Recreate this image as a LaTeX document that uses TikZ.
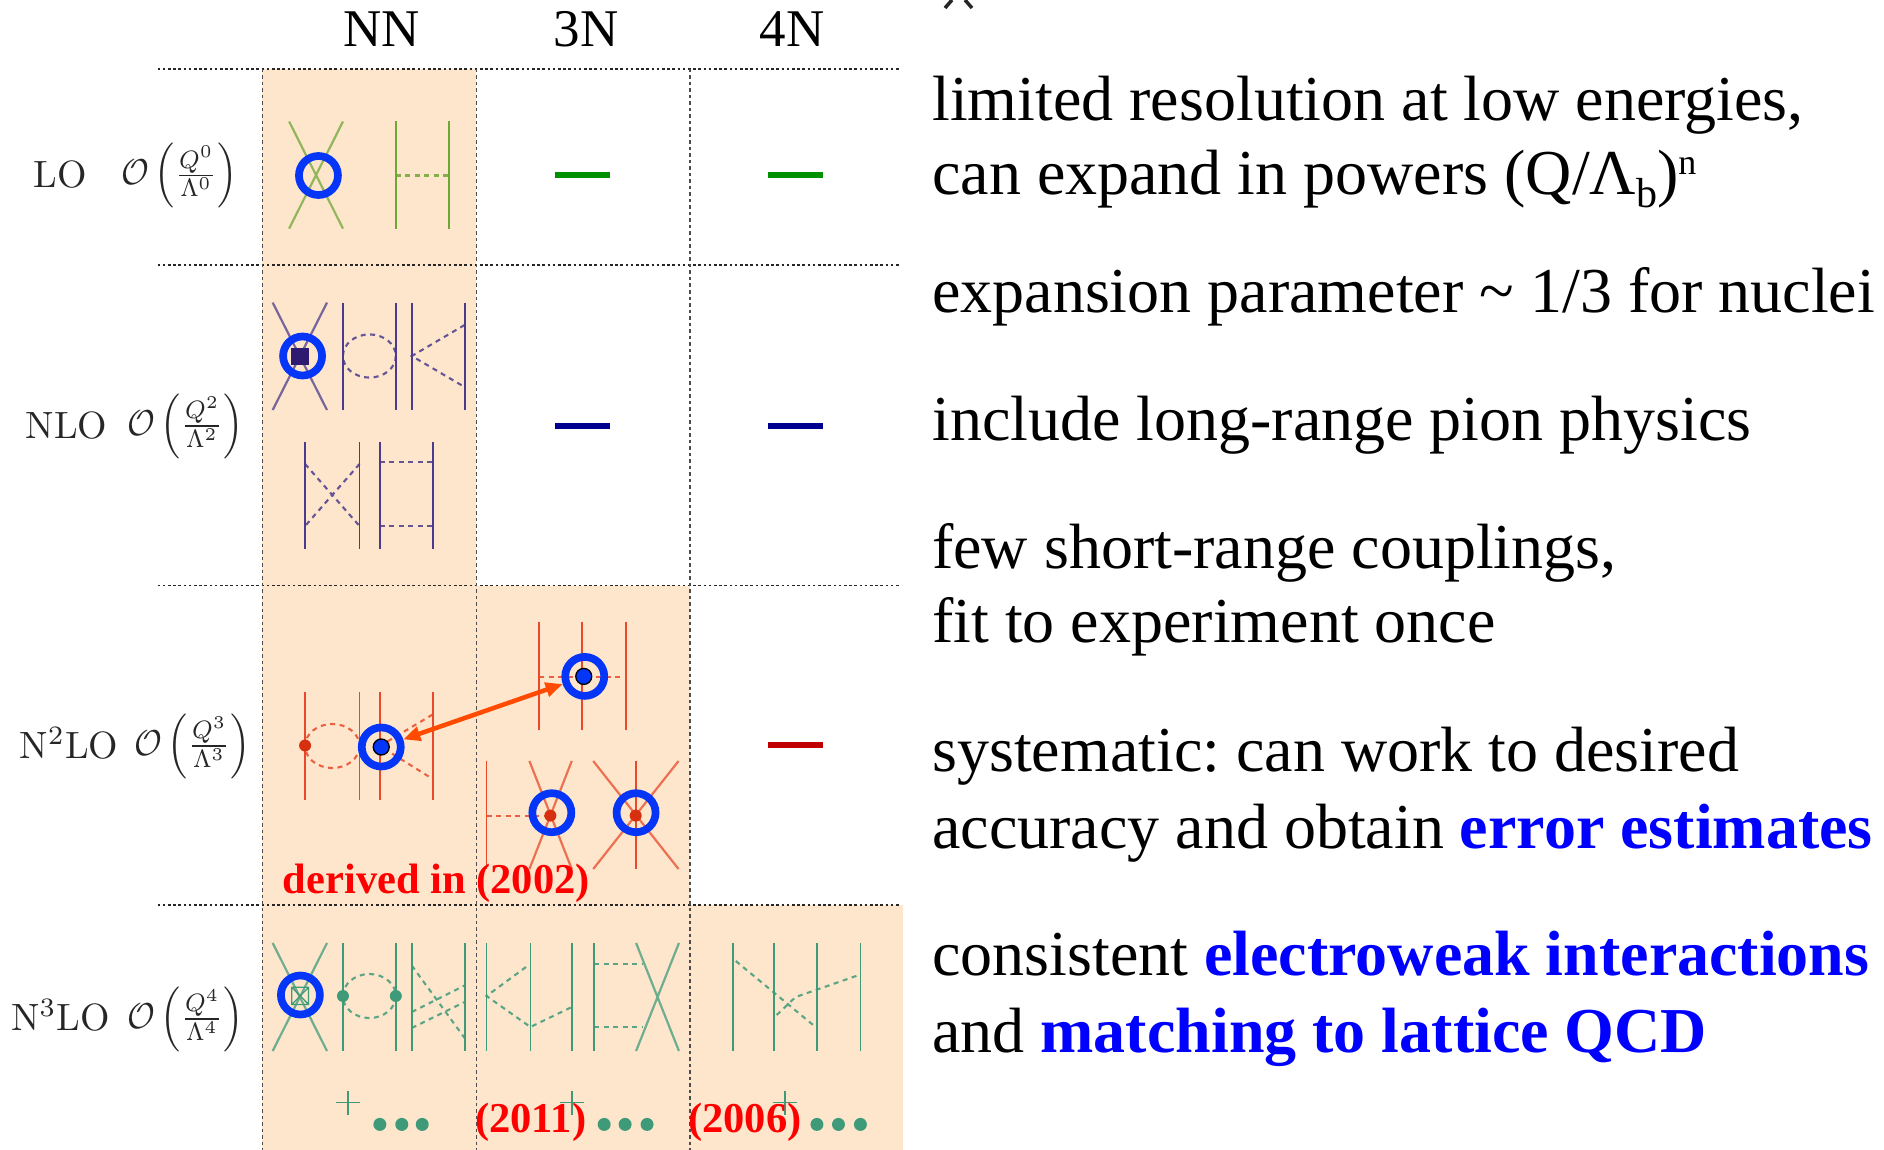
\documentclass[tikz,border=0pt]{standalone}
\usepackage{fontspec}
\newfontfamily\tnr{Liberation Serif}
\usetikzlibrary{arrows.meta}
\definecolor{peach}{HTML}{FDE6CB}
\definecolor{gLO}{HTML}{6FA636}
\definecolor{gNLO}{HTML}{4B3B8E}
\definecolor{gNNLO}{HTML}{E8492B}
\definecolor{gNNNLO}{HTML}{3F9A7A}
\definecolor{ringblue}{HTML}{0536F8}
\tikzset{
  x=1pt,y=-1pt,
  griddot/.style={line width=1.5pt,black!85,dash pattern=on 2.6pt off 2.6pt},
  gridv/.style={line width=1.3pt,black!70,dash pattern=on 3.5pt off 3pt},
  leg/.style={line width=1.8pt},
  xleg/.style={line width=2.2pt,draw opacity=0.75},
  pion/.style={line width=2.1pt,draw opacity=0.85,dash pattern=on 5pt off 4.5pt},
  ring/.style={circle,draw=ringblue,line width=7.7pt,minimum size=39pt,inner sep=0pt,outer sep=3.85pt},
  hdr/.style={font=\tnr\fontsize{53}{60}\selectfont,anchor=base,inner sep=0pt},
  txt/.style={font=\tnr\frenchspacing\fontsize{64}{74}\selectfont,anchor=base west,inner sep=0pt},
  red16/.style={font=\tnr\bfseries\fontsize{42.5}{48}\selectfont,text=red,anchor=base west,inner sep=0pt},
  ordname/.style={transform shape,scale=3.8,anchor=base west,inner sep=0pt,text=black!85},
  ordmath/.style={transform shape,xscale=3.38,yscale=3.6,anchor=west,inner sep=0pt,text=black!85},
  bar/.style={line width=6pt},
  vtx/.style={circle,inner sep=0pt,minimum size=12pt},
  bluedot/.style={circle,draw=black,fill=ringblue,line width=1.3pt,minimum size=16pt,inner sep=0pt},
}
\newcommand{\hlt}[1]{\textcolor{blue}{\bfseries #1}}
\begin{document}
\begin{tikzpicture}
\useasboundingbox (0,0) rectangle (1884,1150);
\begin{scope}[xscale=0.997]
% shading
\fill[peach] (263,69) rectangle (477.6,1150);
\fill[peach] (477.6,585.5) rectangle (692,1150);
\fill[peach] (692,905) rectangle (906,1150);
% grid
\foreach \yy in {69,265,585.5,905} \draw[griddot] (158,\yy) -- (903,\yy);
\foreach \xx in {263,477.6,692} \draw[gridv] (\xx,69) -- (\xx,1150);
% order labels
\node[ordname] (nLO) at (33,188) {LO};
\node[ordmath] (mLO) at (121,175.5) {$\mathcal{O}\left(\frac{Q^0}{\Lambda^0}\right)$};
\node[ordname] (nNLO) at (25,438) {NLO};
\node[ordmath] (mNLO) at (127,426) {$\mathcal{O}\left(\frac{Q^2}{\Lambda^2}\right)$};
\node[ordname] (nN2) at (19,758) {N$^2$LO};
\node[ordmath] (mN2) at (134,746) {$\mathcal{O}\left(\frac{Q^3}{\Lambda^3}\right)$};
\node[ordname] (nN3) at (10.6,1030) {N$^3$LO};
\node[ordmath] (mN3) at (127,1019) {$\mathcal{O}\left(\frac{Q^4}{\Lambda^4}\right)$};
% LO diagrams
\begin{scope}[gLO]
\draw[xleg] (290,121.5) -- (344,228.6) (344,121.5) -- (290,228.6);
\draw[leg] (397,121.5) -- (397,228.6) (450,121.5) -- (450,228.6);
\draw[pion] (397,175.5) -- (450,175.5);
\end{scope}
\node[ring] (rLO) at (319.4,175.5) {};
\draw[bar,draw={rgb,255:red,0;green,144;blue,0}] (556.5,175) -- (612,175);
\draw[bar,draw={rgb,255:red,0;green,144;blue,0}] (770.6,175) -- (825,175);
% NLO diagrams
\begin{scope}[gNLO]
\draw[xleg] (273.5,302.6) -- (328,410) (328,302.6) -- (273.5,410);
\foreach \xx in {344,397,413,466} \draw[leg] (\xx,302.6) -- (\xx,410);
\draw[pion] (370.5,356) ellipse [x radius=26.5,y radius=21.6];
\draw[pion] (466,325) -- (413,356) -- (466,387);
\foreach \xx in {306,360.6,381,434} \draw[leg] (\xx,442) -- (\xx,549);
\draw[pion] (306,464) -- (360.6,526) (360.6,464) -- (306,526);
\draw[pion] (381,462) -- (434,462) (381,526) -- (434,526);
\end{scope}
\fill[fill={rgb,255:red,46;green,26;blue,112}] (292,348) rectangle (310,365);
\node[ring] (rNLO) at (303.5,356) {};
\draw[bar,draw={rgb,255:red,0;green,0;blue,144}] (556.5,426) -- (612,426);
\draw[bar,draw={rgb,255:red,0;green,0;blue,144}] (770.6,426) -- (825,426);
% N2LO diagrams
\begin{scope}[gNNLO]
\foreach \xx in {306,360.6,381,434} \draw[leg] (\xx,692) -- (\xx,800);
\draw[pion] (333.3,746) ellipse [x radius=27.3,y radius=22];
\draw[pion] (434,714.5) -- (381,746) -- (434,779);
\foreach \xx in {541,584,627.6} \draw[leg] (\xx,622) -- (\xx,730);
\draw[pion] (541,676.7) -- (623.5,676.7);
\draw[leg] (488,761) -- (488,869);
\draw[pion] (488,815.6) -- (550,815.6);
\draw[xleg] (531,761) -- (573.5,869) (573.5,761) -- (531,869);
\draw[xleg] (595,761) -- (680.6,869) (680.6,761) -- (595,869);
\draw[leg] (637.6,761) -- (637.6,869);
\end{scope}
\node[vtx,fill={rgb,255:red,214;green,48;blue,16}] (d1) at (306,745.5) {};
\node[vtx,fill={rgb,255:red,214;green,48;blue,16}] (d2) at (552,815.6) {};
\node[vtx,fill={rgb,255:red,214;green,48;blue,16}] (d3) at (637.6,815.6) {};
\node[ring] (rN2a) at (382.4,747) {};
\node[ring] (rN2b) at (586.5,676.4) {};
\node[ring] (rN2c) at (553.5,812.7) {};
\node[ring] (rN2d) at (638,812.7) {};
\node[bluedot] (b1) at (382.4,747) {};
\node[bluedot] (b2) at (585.5,676.4) {};
\draw[{Triangle[length=17pt,width=14pt]}-{Triangle[length=17pt,width=14pt]},line width=4.5pt,draw={rgb,255:red,255;green,74;blue,0}] (rN2a) -- (rN2b);
\draw[bar,draw={rgb,255:red,192;green,0;blue,0}] (770.6,745) -- (825,745);
\node[red16] (der) at (283.5,893) {derived in (2002)};
% N3LO diagrams
\begin{scope}[gNNNLO]
\draw[xleg] (273.5,943) -- (328,1051) (328,943) -- (273.5,1051);
\foreach \xx in {344,397,413,466,488,532,573.5,596,735,776.5,819.4,863} \draw[leg] (\xx,943) -- (\xx,1051);
\draw[pion] (370.5,996) ellipse [x radius=26.5,y radius=22];
\draw[pion] (413,965.5) -- (466,1038) (413,1012) -- (466,985.5) (413,1028) -- (466,1002);
\draw[pion] (527.6,967) -- (488,996) -- (532,1027) -- (573.5,1007);
\draw[xleg] (638,943) -- (681,1051) (681,943) -- (638,1051);
\draw[pion] (596,963.6) -- (645,963.6) (596,1027) -- (645,1027);
\draw[pion] (738,961) -- (818,1027) (779,1015) -- (798,997) -- (863,974.5);
\draw[line width=1.3pt] (292.7,987.3) rectangle (309.5,1004.5) (292.7,987.3) -- (309.5,1004.5) (309.5,987.3) -- (292.7,1004.5);
\draw[leg] (337,1102.5) -- (361,1102.5) (349,1090.5) -- (349,1114.5);
\draw[leg] (561.5,1102.5) -- (585.5,1102.5) (573.5,1090.5) -- (573.5,1114.5);
\draw[leg] (775,1102.5) -- (799,1102.5) (787,1090.5) -- (787,1114.5);
\foreach \xx in {381,403,423.5,606,627,649,819.4,841,863} \fill (\xx,1124.4) circle [radius=6.5];
\end{scope}
\node[vtx,fill=gNNNLO] (d4) at (344,996) {};
\node[vtx,fill=gNNNLO] (d5) at (397,996) {};
\node[ring] (rN3) at (301.3,995) {};
\node[red16] (y11) at (476.5,1132) {(2011)};
\node[red16] (y06) at (690,1132) {(2006)};
\end{scope}
% headers
\node[hdr] (hNN) at (382,47) {NN};
\node[hdr] (h3N) at (586,47) {3N};
\node[hdr] (h4N) at (792,47) {4N};
% cropped glyph at top
\draw[line width=3.5pt,black!85] (945,8) -- (952,0) (965,0) -- (972,8);
% right text
\node[txt] (t1) at (932,121) {limited resolution at low energies,};
\node[txt] (t2) at (932,195) {can expand in powers (Q/Λ\raisebox{-13pt}{\fontsize{42}{42}\selectfont b})\raisebox{20pt}{\fontsize{36}{36}\selectfont n}};
\node[txt] (t3) at (932,312.5) {expansion parameter \textasciitilde{} 1/3 for nuclei};
\node[txt] (t4) at (932,440.5) {include long-range pion physics};
\node[txt] (t5) at (932,568.5) {few short-range couplings,};
\node[txt] (t6) at (932,642.5) {fit to experiment once};
\node[txt] (t7) at (932,771) {systematic: can work to desired};
\node[txt] (t8) at (932,848) {accuracy and obtain \hlt{error estimates}};
\node[txt] (t9) at (932,975.5) {consistent \hlt{electroweak interactions}};
\node[txt] (t10) at (932,1052.5) {and \hlt{matching to lattice QCD}};
\end{tikzpicture}
\end{document}
